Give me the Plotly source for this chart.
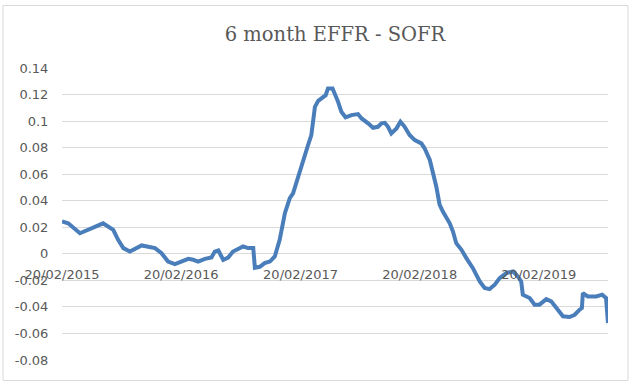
import plotly.graph_objects as go

dates = [
    "2015-02-20", "2015-03-11", "2015-04-16", "2015-05-22", "2015-06-26", "2015-07-27",
    "2015-08-11", "2015-08-27", "2015-09-16", "2015-10-22", "2015-11-06", "2015-12-02",
    "2015-12-22", "2016-01-11", "2016-02-01", "2016-02-21", "2016-03-13", "2016-03-28",
    "2016-04-12", "2016-05-03", "2016-05-23", "2016-06-02", "2016-06-13", "2016-06-28",
    "2016-07-13", "2016-07-28", "2016-08-28", "2016-09-12", "2016-09-28", "2016-10-03",
    "2016-10-18", "2016-11-02", "2016-11-18", "2016-12-03", "2016-12-18", "2017-01-03",
    "2017-01-18", "2017-01-28", "2017-02-12", "2017-02-28", "2017-03-15", "2017-03-25",
    "2017-03-30", "2017-04-05", "2017-04-15", "2017-04-30", "2017-05-08", "2017-05-15",
    "2017-05-29", "2017-06-15", "2017-06-25", "2017-07-08", "2017-07-26", "2017-08-15",
    "2017-08-26", "2017-09-15", "2017-09-30", "2017-10-15", "2017-10-26", "2017-11-05",
    "2017-11-15", "2017-11-25", "2017-12-11", "2017-12-23", "2018-01-05", "2018-01-20",
    "2018-02-05", "2018-02-25", "2018-03-07", "2018-03-23", "2018-04-02", "2018-04-12",
    "2018-04-22", "2018-05-02", "2018-05-23", "2018-06-02", "2018-06-12", "2018-06-28",
    "2018-07-13", "2018-08-02", "2018-08-23", "2018-09-07", "2018-09-22", "2018-10-08",
    "2018-10-23", "2018-11-12", "2018-12-03", "2018-12-18", "2018-12-28", "2019-01-02",
    "2019-01-23", "2019-02-07", "2019-02-22", "2019-03-15", "2019-03-30", "2019-04-15",
    "2019-05-05", "2019-05-25", "2019-06-10", "2019-06-25", "2019-07-02", "2019-07-05",
    "2019-07-20", "2019-08-15", "2019-09-02", "2019-09-14", "2019-09-20",
]

spread = [
    0.0244, 0.0230, 0.0155, 0.0193, 0.0230, 0.0180,
    0.0105, 0.0043, 0.0017, 0.0063, 0.0055, 0.0043,
    0.0005, -0.0058, -0.0078, -0.0058, -0.0038, -0.0045,
    -0.0058, -0.0038, -0.0028, 0.0017, 0.0025, -0.0045,
    -0.0028, 0.0017, 0.0055, 0.0043, 0.0043, -0.0105,
    -0.0098, -0.0070, -0.0058, -0.0020, 0.0105, 0.0306,
    0.0419, 0.0456, 0.0581, 0.0694, 0.0820, 0.0895,
    0.0983, 0.1108, 0.1153, 0.1178, 0.1195, 0.1246,
    0.1246, 0.1145, 0.1070, 0.1028, 0.1045, 0.1053,
    0.1020, 0.0983, 0.0950, 0.0957, 0.0983, 0.0987,
    0.0957, 0.0907, 0.0945, 0.0995, 0.0957, 0.0895,
    0.0857, 0.0832, 0.0795, 0.0707, 0.0619, 0.0506,
    0.0370, 0.0318, 0.0230, 0.0168, 0.0080, 0.0030,
    -0.0032, -0.0108, -0.0208, -0.0258, -0.0266, -0.0233,
    -0.0183, -0.0145, -0.0133, -0.0171, -0.0208, -0.0308,
    -0.0333, -0.0383, -0.0383, -0.0341, -0.0358, -0.0408,
    -0.0471, -0.0476, -0.0459, -0.0421, -0.0408, -0.0296,
    -0.0321, -0.0321, -0.0308, -0.0333, -0.0521,
]

x_tick_vals = ["2015-02-20", "2016-02-20", "2017-02-20", "2018-02-20", "2019-02-20"]
x_tick_text = ["20/02/2015", "20/02/2016", "20/02/2017", "20/02/2018", "20/02/2019"]
y_tick_vals = [0.14, 0.12, 0.10, 0.08, 0.06, 0.04, 0.02, 0.0, -0.02, -0.04, -0.06, -0.08]
y_tick_text = ["0.14", "0.12", "0.1", "0.08", "0.06", "0.04", "0.02", "0", "-0.02", "-0.04", "-0.06", "-0.08"]

title_text = "6 month EFFR - SOFR"

grey = "#595959"
fig = go.Figure()
fig.add_trace(go.Scatter(
    x=dates, y=spread, mode="lines",
    line=dict(color="#4A7EBB", width=4, shape="linear"),
    showlegend=False, hoverinfo="x+y",
))

ymin, ymax = -0.08, 0.14
L, R, T, B = 62, 27.5, 68, 27
W, H = 636, 387
pw, ph = W - L - R, H - T - B

fig.update_layout(
    width=W, height=H,
    margin=dict(l=L, r=R, t=T, b=B),
    paper_bgcolor="white", plot_bgcolor="white",
    title=dict(text=title_text, x=0.5, xanchor="center", xref="paper",
               y=1 - 34 / H, yanchor="middle", yref="container",
               font=dict(family="DejaVu Serif", size=19.5, color=grey)),
    xaxis=dict(
        type="date", range=["2015-02-20", "2019-09-20"],
        tickmode="array", tickvals=x_tick_vals, ticktext=x_tick_text,
        showgrid=False, zeroline=False, showline=False,
        anchor="free", position=(0 - ymin) / (ymax - ymin),
        ticks="outside", ticklen=9, tickcolor="rgba(0,0,0,0)",
        tickfont=dict(family="DejaVu Sans", size=13, color=grey),
    ),
    yaxis=dict(
        range=[ymin, ymax], tickmode="array", tickvals=y_tick_vals, ticktext=y_tick_text,
        showgrid=True, gridcolor="#d9d9d9", gridwidth=1,
        zeroline=False, showline=False,
        ticks="outside", ticklen=10, tickcolor="rgba(0,0,0,0)",
        tickfont=dict(family="DejaVu Sans", size=13, color=grey),
    ),
)

fig.add_shape(type="rect", xref="paper", yref="paper",
              x0=(3 - L) / pw, x1=(628.5 - L) / pw,
              y0=(H - B - 380.5) / ph, y1=(H - B - 5.5) / ph,
              line=dict(color="#d9d9d9", width=1), fillcolor="rgba(0,0,0,0)", layer="above")

fig.write_html("out.html", config={"displayModeBar": False},
               post_script="document.body.style.margin='0';document.body.style.overflow='hidden';")
